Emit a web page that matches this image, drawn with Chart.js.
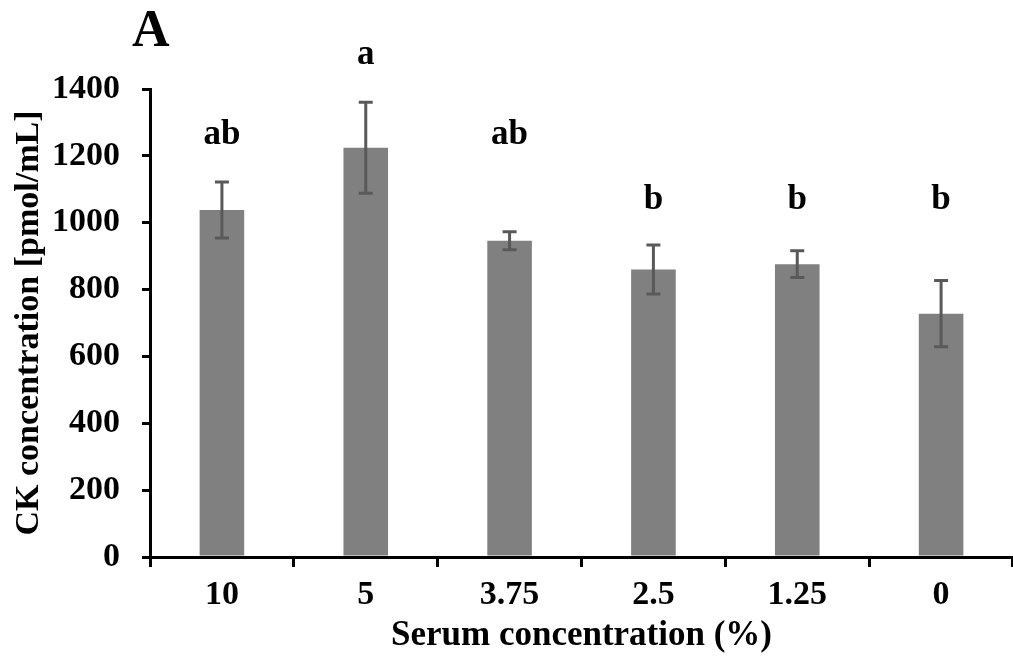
<!DOCTYPE html>
<html>
<head>
<meta charset="utf-8">
<script src="https://cdn.jsdelivr.net/npm/chart.js@4.4.0/dist/chart.umd.min.js"></script>
<style>
  html, body { margin: 0; padding: 0; background: #fff; }
  #wrap { width: 1013px; height: 659px; }
</style>
</head>
<body>
<div id="wrap"><canvas id="ckChart"></canvas></div>
<script>
var serumLevels = ['10', '5', '3.75', '2.5', '1.25', '0'];
var ckMean = [1038, 1224, 946, 860, 876, 728];
var ckSD = [84, 136, 27, 73, 40, 99];
var sigLetters = ['ab', 'a', 'ab', 'b', 'b', 'b'];
var letterAt = [1262, 1502, 1262, 1068, 1068, 1068];
var yTicks = [0, 200, 400, 600, 800, 1000, 1200, 1400];

var serif = '"Liberation Serif", "Times New Roman", serif';

// error bars, significance letters, y title and panel letter
var errorBars = {
  id: 'errorBars',
  afterDatasetsDraw: function(chart) {
    var ctx = chart.ctx;
    var y = chart.scales.y;
    var bars = chart.getDatasetMeta(0).data;
    ctx.save();
    ctx.strokeStyle = '#595959';
    ctx.lineWidth = 3;
    for (var i = 0; i < bars.length; i++) {
      var x = bars[i].x;
      var hi = y.getPixelForValue(ckMean[i] + ckSD[i]);
      var lo = y.getPixelForValue(ckMean[i] - ckSD[i]);
      ctx.beginPath();
      ctx.moveTo(x, hi); ctx.lineTo(x, lo);
      ctx.moveTo(x - 7, hi); ctx.lineTo(x + 7, hi);
      ctx.moveTo(x - 7, lo); ctx.lineTo(x + 7, lo);
      ctx.stroke();
    }
    ctx.fillStyle = '#000';
    ctx.font = 'bold 35px ' + serif;
    ctx.textAlign = 'center';
    ctx.textBaseline = 'middle';
    for (var j = 0; j < bars.length; j++) {
      ctx.fillText(sigLetters[j], bars[j].x, y.getPixelForValue(letterAt[j]));
    }

    ctx.save();
    ctx.translate(29, (chart.chartArea.top + chart.chartArea.bottom) / 2);
    ctx.rotate(-Math.PI / 2);
    ctx.font = 'bold 34px ' + serif;
    ctx.fillText('CK concentration [pmol/mL]', 0, 0);
    ctx.restore();

    ctx.font = 'bold 52px ' + serif;
    ctx.textAlign = 'left';
    ctx.textBaseline = 'alphabetic';
    ctx.fillText('A', 132, 46);
    ctx.restore();
  }
};

new Chart(document.getElementById('ckChart'), {
  type: 'bar',
  data: {
    labels: serumLevels,
    datasets: [{
      data: ckMean,
      backgroundColor: '#808080',
      borderWidth: 0,
      categoryPercentage: 1,
      barPercentage: 0.31
    }]
  },
  options: {
    responsive: true,
    maintainAspectRatio: false,
    animation: false,
    events: [],
    layout: { padding: { top: 89, right: 0, bottom: 0, left: 0 } },
    plugins: {
      legend: { display: false },
      tooltip: { enabled: false }
    },
    scales: {
      x: {
        grid: { display: true, drawOnChartArea: false, drawTicks: true, tickLength: 10, color: '#000', lineWidth: 3, offset: true },
        border: { display: true, color: '#000', width: 3 },
        ticks: { color: '#000', padding: 8, font: { family: serif, size: 34, weight: 'bold' } },
        title: { display: true, text: 'Serum concentration (%)', color: '#000', padding: { top: 2, bottom: 2 }, font: { family: serif, size: 35, weight: 'bold' } },
        afterFit: function(s) { s.height = 102; }
      },
      y: {
        min: 0,
        max: 1400,
        afterBuildTicks: function(s) { s.ticks = yTicks.map(function(v) { return { value: v }; }); },
        grid: { display: true, drawOnChartArea: false, drawTicks: true, tickLength: 8, color: '#000', lineWidth: 3 },
        border: { display: true, color: '#000', width: 3 },
        ticks: {
          color: '#000',
          padding: 22,
          font: { family: serif, size: 34, weight: 'bold' },
          callback: function(v) { return String(v); }
        },
        afterFit: function(s) { s.width = 150; }
      }
    }
  },
  plugins: [errorBars]
});
</script>
</body>
</html>
